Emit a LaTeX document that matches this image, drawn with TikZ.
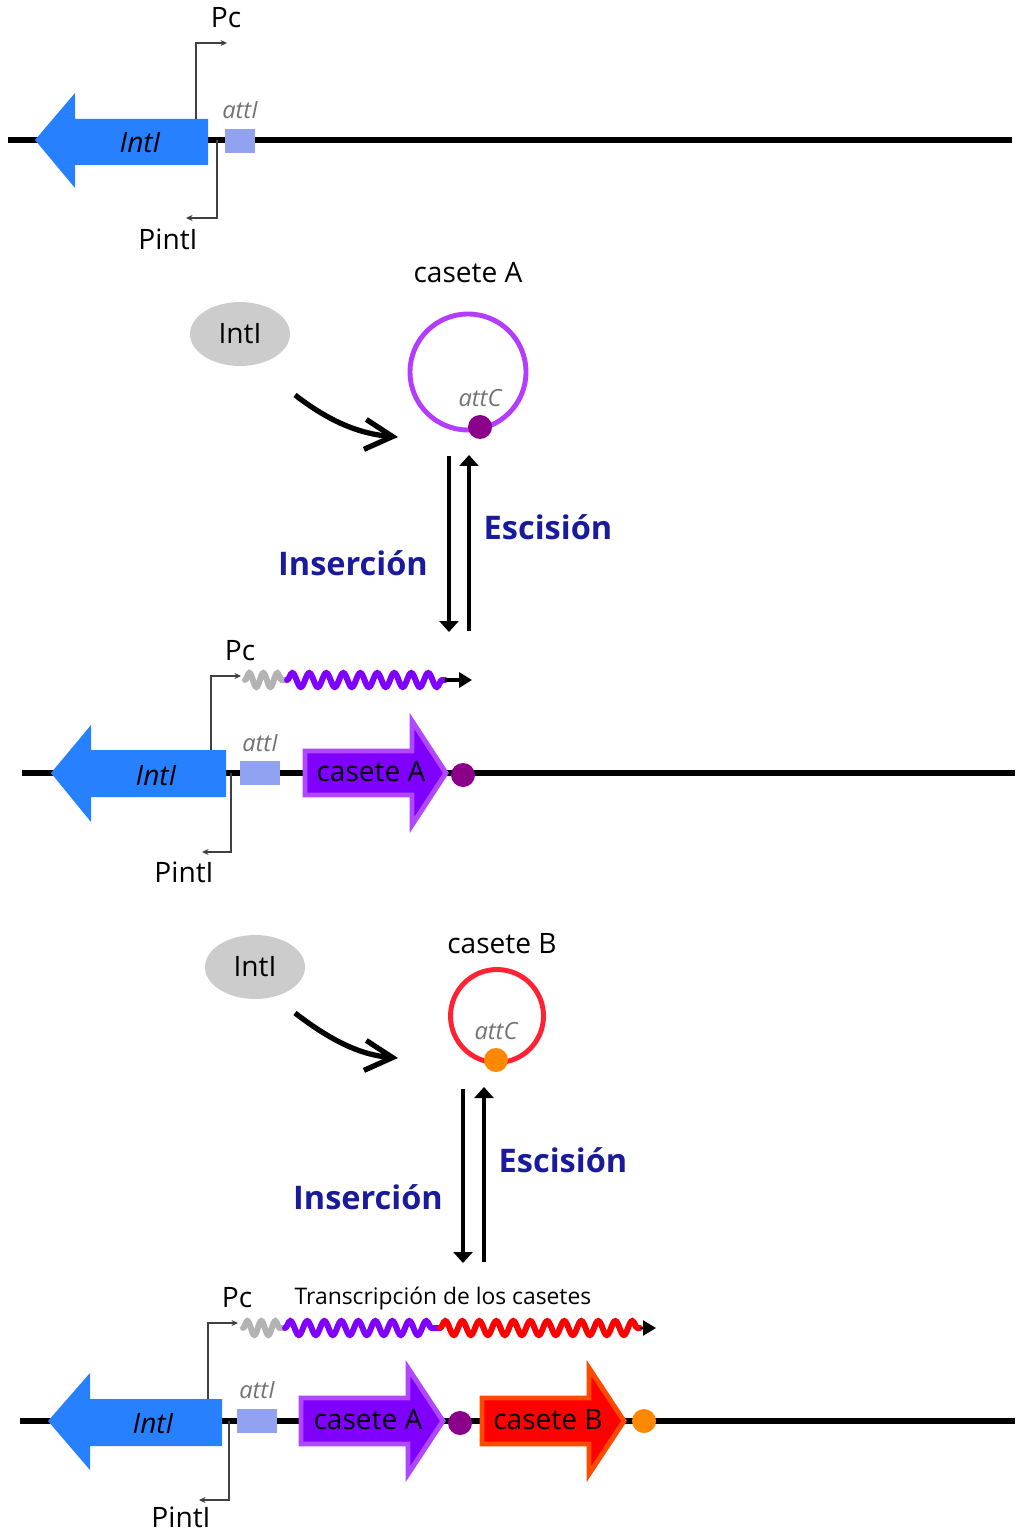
\documentclass[tikz,border=0pt]{standalone}
\usepackage{fontspec}
\setmainfont{Open Sans}
\usetikzlibrary{arrows.meta,shapes.geometric,decorations.pathmorphing}
\definecolor{intblue}{HTML}{2680FF}
\definecolor{attblue}{HTML}{91A2F0}
\definecolor{casA}{HTML}{7F00FF}
\definecolor{casAb}{HTML}{B048FF}
\definecolor{casB}{HTML}{FF0000}
\definecolor{casBb}{HTML}{FF4A00}
\definecolor{dotA}{HTML}{8B008B}
\definecolor{dotB}{HTML}{FF8800}
\definecolor{ringA}{HTML}{B33CFF}
\definecolor{ringB}{HTML}{FF2233}
\definecolor{txtblue}{HTML}{1A1A9C}
\definecolor{ellgray}{HTML}{CCCCCC}
\definecolor{wavegray}{HTML}{B3B3B3}

\tikzset{
	dna/.style={line width=3.4pt},
	prom/.style={draw=black!75, line width=0.8pt, -{Stealth[length=1.3mm,width=1.2mm]}},
	lbl/.style={font=\fontsize{16}{19}\selectfont, inner sep=0pt},
	genlbl/.style={font=\fontsize{16}{19}\selectfont\itshape, inner sep=0pt},
	attlbl/.style={font=\fontsize{13.5}{16}\selectfont\itshape, text=black!55, inner sep=0pt},
	steplbl/.style={font=\fontsize{18.5}{22}\selectfont\bfseries, text=txtblue, inner sep=0pt},
	wave/.style={line width=3.4pt, line cap=round, decorate, decoration={snake, segment length=0.34cm, amplitude=0.14cm}},
	transc/.style={line width=2pt, -{Triangle[length=2.6mm,width=3mm]}},
	cassette/.style={line width=2.8pt, line join=miter},
	enzyme/.style={ellipse, fill=ellgray, minimum width=2cm, minimum height=1.28cm, inner sep=0pt, font=\fontsize{16}{19}\selectfont},
	bind/.style={line width=3pt, -{Straight Barb[length=5.5mm,width=6mm]}},
	equil/.style={line width=2pt, -{Triangle[length=2.2mm,width=3.8mm]}},
}

\begin{document}
\begin{tikzpicture}[x=0.02cm,y=-0.02cm]
	\useasboundingbox (0,0) rectangle (1015,1533);

	% integron sin casetes
	\draw [dna] (8,140) -- (1012,140);
	\fill [intblue] (35,140) -- (75,93) -- (75,119) -- (208,119) -- (208,165) -- (75,165) -- (75,188) -- cycle;
	\node [genlbl] (int1) at (140,143) {IntI};
	\fill [attblue] (225,129) rectangle (255,153);
	\node [attlbl] (att1) at (240,110) {attI};
	\coordinate (pc1a) at (196,119); \coordinate (pc1b) at (227,43);
	\draw [prom] (pc1a) |- (pc1b);
	\node [lbl] (pc1) at (226,18) {Pc};
	\coordinate (pi1a) at (217,140); \coordinate (pi1b) at (186,218);
	\draw [prom] (pi1a) |- (pi1b);
	\node [lbl] (pint1) at (168,239) {PintI};

	% casete A libre
	\node [enzyme] (enzA) at (240,334) {IntI};
	\draw [bind] (295,395) .. controls (330,422) and (360,434) .. (398,437);
	\node [lbl] (casAt) at (468,273) {casete A};
	\draw [ringA, line width=2.8pt] (468,372) circle [radius=58];
	\node [attlbl] (attCA) at (480,398) {attC};
	\fill [dotA] (480,427) circle [radius=12];
	\coordinate (insAa) at (449,456); \coordinate (insAb) at (449,632);
	\coordinate (excAa) at (469,631); \coordinate (excAb) at (469,455);
	\draw [equil] (insAa) -- (insAb);
	\draw [equil] (excAa) -- (excAb);
	\node [steplbl] (insA) at (353,563) {Inserción};
	\node [steplbl] (excA) at (548,527) {Escisión};

	% integron con casete A
	\begin{scope}[shift={(16,633)}]
	\draw [dna] (6,140) -- (999,140);
	\fill [intblue] (35,140) -- (75,92) -- (75,117) -- (210,117) -- (210,164) -- (75,164) -- (75,189) -- cycle;
	\node [genlbl] (int2) at (140,143) {IntI};
	\fill [attblue] (224,128) rectangle (264,152);
	\node [attlbl] (att2) at (244,110) {attI};
	\draw [cassette, fill=casA, draw=casAb] (289,118) -- (396,118) -- (396,88) -- (430,140) -- (396,192) -- (396,162) -- (289,162) -- cycle;
	\node [lbl] (casA2) at (355,139) {casete A};
	\fill [dotA] (447,142) circle [radius=12];
	\coordinate (pc2a) at (195,117); \coordinate (pc2b) at (225,43);
	\draw [prom] (pc2a) |- (pc2b);
	\node [lbl] (pc2) at (224,18) {Pc};
	\coordinate (pi2a) at (215,140); \coordinate (pi2b) at (186,219);
	\draw [prom] (pi2a) |- (pi2b);
	\node [lbl] (pint2) at (168,239) {PintI};
	\coordinate (w2a) at (229,47); \coordinate (w2b) at (271,47);
	\coordinate (w2c) at (429,47); \coordinate (w2d) at (456,47);
	\draw [wave, wavegray, decoration={segment length=0.28cm}] (w2a) -- (w2b);
	\draw [wave, casA] (w2b) -- (w2c);
	\draw [transc] (w2c) -- (w2d);
	\end{scope}

	% casete B libre
	\node [enzyme] (enzB) at (255,967) {IntI};
	\draw [bind] (295,1013) .. controls (330,1040) and (360,1055) .. (398,1058);
	\node [lbl] (casBt) at (502,944) {casete B};
	\draw [ringB, line width=2.8pt] (497,1016) circle [radius=46.5];
	\node [attlbl] (attCB) at (496,1031) {attC};
	\fill [dotB] (496,1060) circle [radius=12];
	\coordinate (insBa) at (463,1089); \coordinate (insBb) at (463,1263);
	\coordinate (excBa) at (484,1262); \coordinate (excBb) at (484,1087);
	\draw [equil] (insBa) -- (insBb);
	\draw [equil] (excBa) -- (excBb);
	\node [steplbl] (insB) at (368,1197) {Inserción};
	\node [steplbl] (excB) at (563,1160) {Escisión};

	% integron con casetes A y B
	\begin{scope}[shift={(13,1281)}]
	\draw [dna] (7,140) -- (1002,140);
	\fill [intblue] (35,140) -- (77,92) -- (77,118) -- (209,118) -- (209,165) -- (77,165) -- (77,189) -- cycle;
	\node [genlbl] (int3) at (140,143) {IntI};
	\fill [attblue] (224,128) rectangle (264,152);
	\node [attlbl] (att3) at (244,109) {attI};
	\draw [cassette, fill=casA, draw=casAb] (288,117) -- (395,117) -- (395,87) -- (430,140) -- (395,193) -- (395,163) -- (288,163) -- cycle;
	\node [lbl] (casA3) at (355,139) {casete A};
	\fill [dotA] (447,142) circle [radius=12];
	\draw [cassette, fill=casB, draw=casBb] (469,117) -- (576,117) -- (576,87) -- (611,140) -- (576,193) -- (576,163) -- (469,163) -- cycle;
	\node [lbl] (casB3) at (535,139) {casete B};
	\fill [dotB] (631,140) circle [radius=12];
	\coordinate (pc3a) at (195,118); \coordinate (pc3b) at (225,42);
	\draw [prom] (pc3a) |- (pc3b);
	\node [lbl] (pc3) at (224,17) {Pc};
	\coordinate (pi3a) at (216,140); \coordinate (pi3b) at (186,219);
	\draw [prom] (pi3a) |- (pi3b);
	\node [lbl] (pint3) at (168,236) {PintI};
	\node [font=\fontsize{13}{15}\selectfont, inner sep=0pt] (trans) at (430,17) {Transcripción de los casetes};
	\coordinate (w3a) at (230,47); \coordinate (w3b) at (272,47);
	\coordinate (w3c) at (427,47); \coordinate (w3d) at (627,47);
	\coordinate (w3e) at (643,47);
	\draw [wave, wavegray, decoration={segment length=0.28cm}] (w3a) -- (w3b);
	\draw [wave, casA] (w3b) -- (w3c);
	\draw [wave, casB] (w3c) -- (w3d);
	\draw [transc, line width=1.4pt] (w3d) -- (w3e);
	\end{scope}
\end{tikzpicture}
\end{document}
